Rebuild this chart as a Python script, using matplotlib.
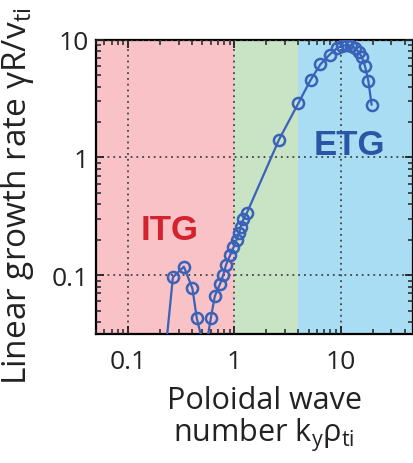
import matplotlib.pyplot as plt
from matplotlib.ticker import LogLocator, NullFormatter, FixedLocator, FixedFormatter

plt.rcParams['font.family'] = ['Open Sans', 'DejaVu Sans']
plt.rcParams['mathtext.fontset'] = 'custom'
plt.rcParams['mathtext.rm'] = 'Open Sans'
plt.rcParams['mathtext.it'] = 'Open Sans'

# growth rate spectrum
ky = [0.21, 0.264, 0.335, 0.403, 0.443, 0.53, 0.60, 0.655, 0.73, 0.788, 0.836,
      0.91, 0.98, 1.05, 1.107, 1.148, 1.215, 1.307, 2.63, 4.0, 5.2, 6.45,
      7.85, 9.15, 10.3, 11.4, 12.5, 13.6, 14.7, 15.8, 16.9, 18.2, 19.5]
gamma = [0.012, 0.096, 0.118, 0.077, 0.043, 0.022, 0.043, 0.0665, 0.0835, 0.101, 0.123,
         0.147, 0.172, 0.2, 0.228, 0.259, 0.299, 0.336, 1.42, 2.9, 4.55, 6.2,
         7.47, 8.45, 8.95, 8.98, 8.95, 8.55, 7.9, 7.15, 6.0, 4.45, 2.82]

# regions in ky
itg_span = (0.04, 1.0)
mid_span = (1.0, 4.0)
etg_span = (4.0, 60.0)

fig = plt.figure(figsize=(4.14, 4.64), dpi=100)
ax = fig.add_axes([0.232, 0.278, 0.766, 0.634])

ax.axvspan(*itg_span, color='#f9c2c6', lw=0, zorder=0)
ax.axvspan(*mid_span, color='#c9e3c5', lw=0, zorder=0)
ax.axvspan(*etg_span, color='#a9ddf4', lw=0, zorder=0)

ax.plot(ky, gamma, '-o', color='#3a62b8', lw=1.6, ms=8, mfc='none', mew=1.8, zorder=3)

ax.set_xscale('log')
ax.set_yscale('log')
ax.set_xlim(0.05, 48)
ax.set_ylim(0.0316, 10)

ax.grid(True, which='major', ls=(0, (1, 2.2)), color='#444444', lw=1.3)
ax.set_axisbelow(False)

ax.xaxis.set_major_locator(FixedLocator([0.1, 1, 10]))
ax.xaxis.set_major_formatter(FixedFormatter(['0.1', '1', '10']))
ax.yaxis.set_major_locator(FixedLocator([0.1, 1, 10]))
ax.yaxis.set_major_formatter(FixedFormatter(['0.1', '1', '10']))
ax.xaxis.set_minor_locator(LogLocator(base=10, subs=range(2, 10)))
ax.yaxis.set_minor_locator(LogLocator(base=10, subs=range(2, 10)))
ax.xaxis.set_minor_formatter(NullFormatter())
ax.yaxis.set_minor_formatter(NullFormatter())
ax.tick_params(which='both', direction='in', top=True, right=True, labelsize=19, colors='#222222')
ax.tick_params(axis='x', pad=11)
ax.tick_params(axis='y', pad=5)
ax.tick_params(which='major', length=6, width=1.3)
ax.tick_params(which='minor', length=3.5, width=1.1)
for s in ax.spines.values():
    s.set_linewidth(1.6)

ax.text(0.245, 0.245, 'ITG', color='#d2232e', fontsize=25, fontweight='bold',
        ha='center', va='center', family='Liberation Sans')
ax.text(12.1, 1.29, 'ETG', color='#2b56a6', fontsize=25, fontweight='bold',
        ha='center', va='center', family='Liberation Sans')

ax.set_ylabel('Linear growth rate \u03b3R/v$_{\\mathrm{ti}}$', fontsize=24, color='#222222')
ax.yaxis.set_label_coords(-0.19, 0.47, transform=ax.transAxes)
ax.set_xlabel('Poloidal wave\nnumber k$_{\\mathrm{y}}$\u03c1$_{\\mathrm{ti}}$', fontsize=22,
              color='#222222', linespacing=1.0)
ax.xaxis.set_label_coords(0.53, -0.175, transform=ax.transAxes)
ax.xaxis.label.set_va('top')

fig.savefig('out.png', dpi=100)
